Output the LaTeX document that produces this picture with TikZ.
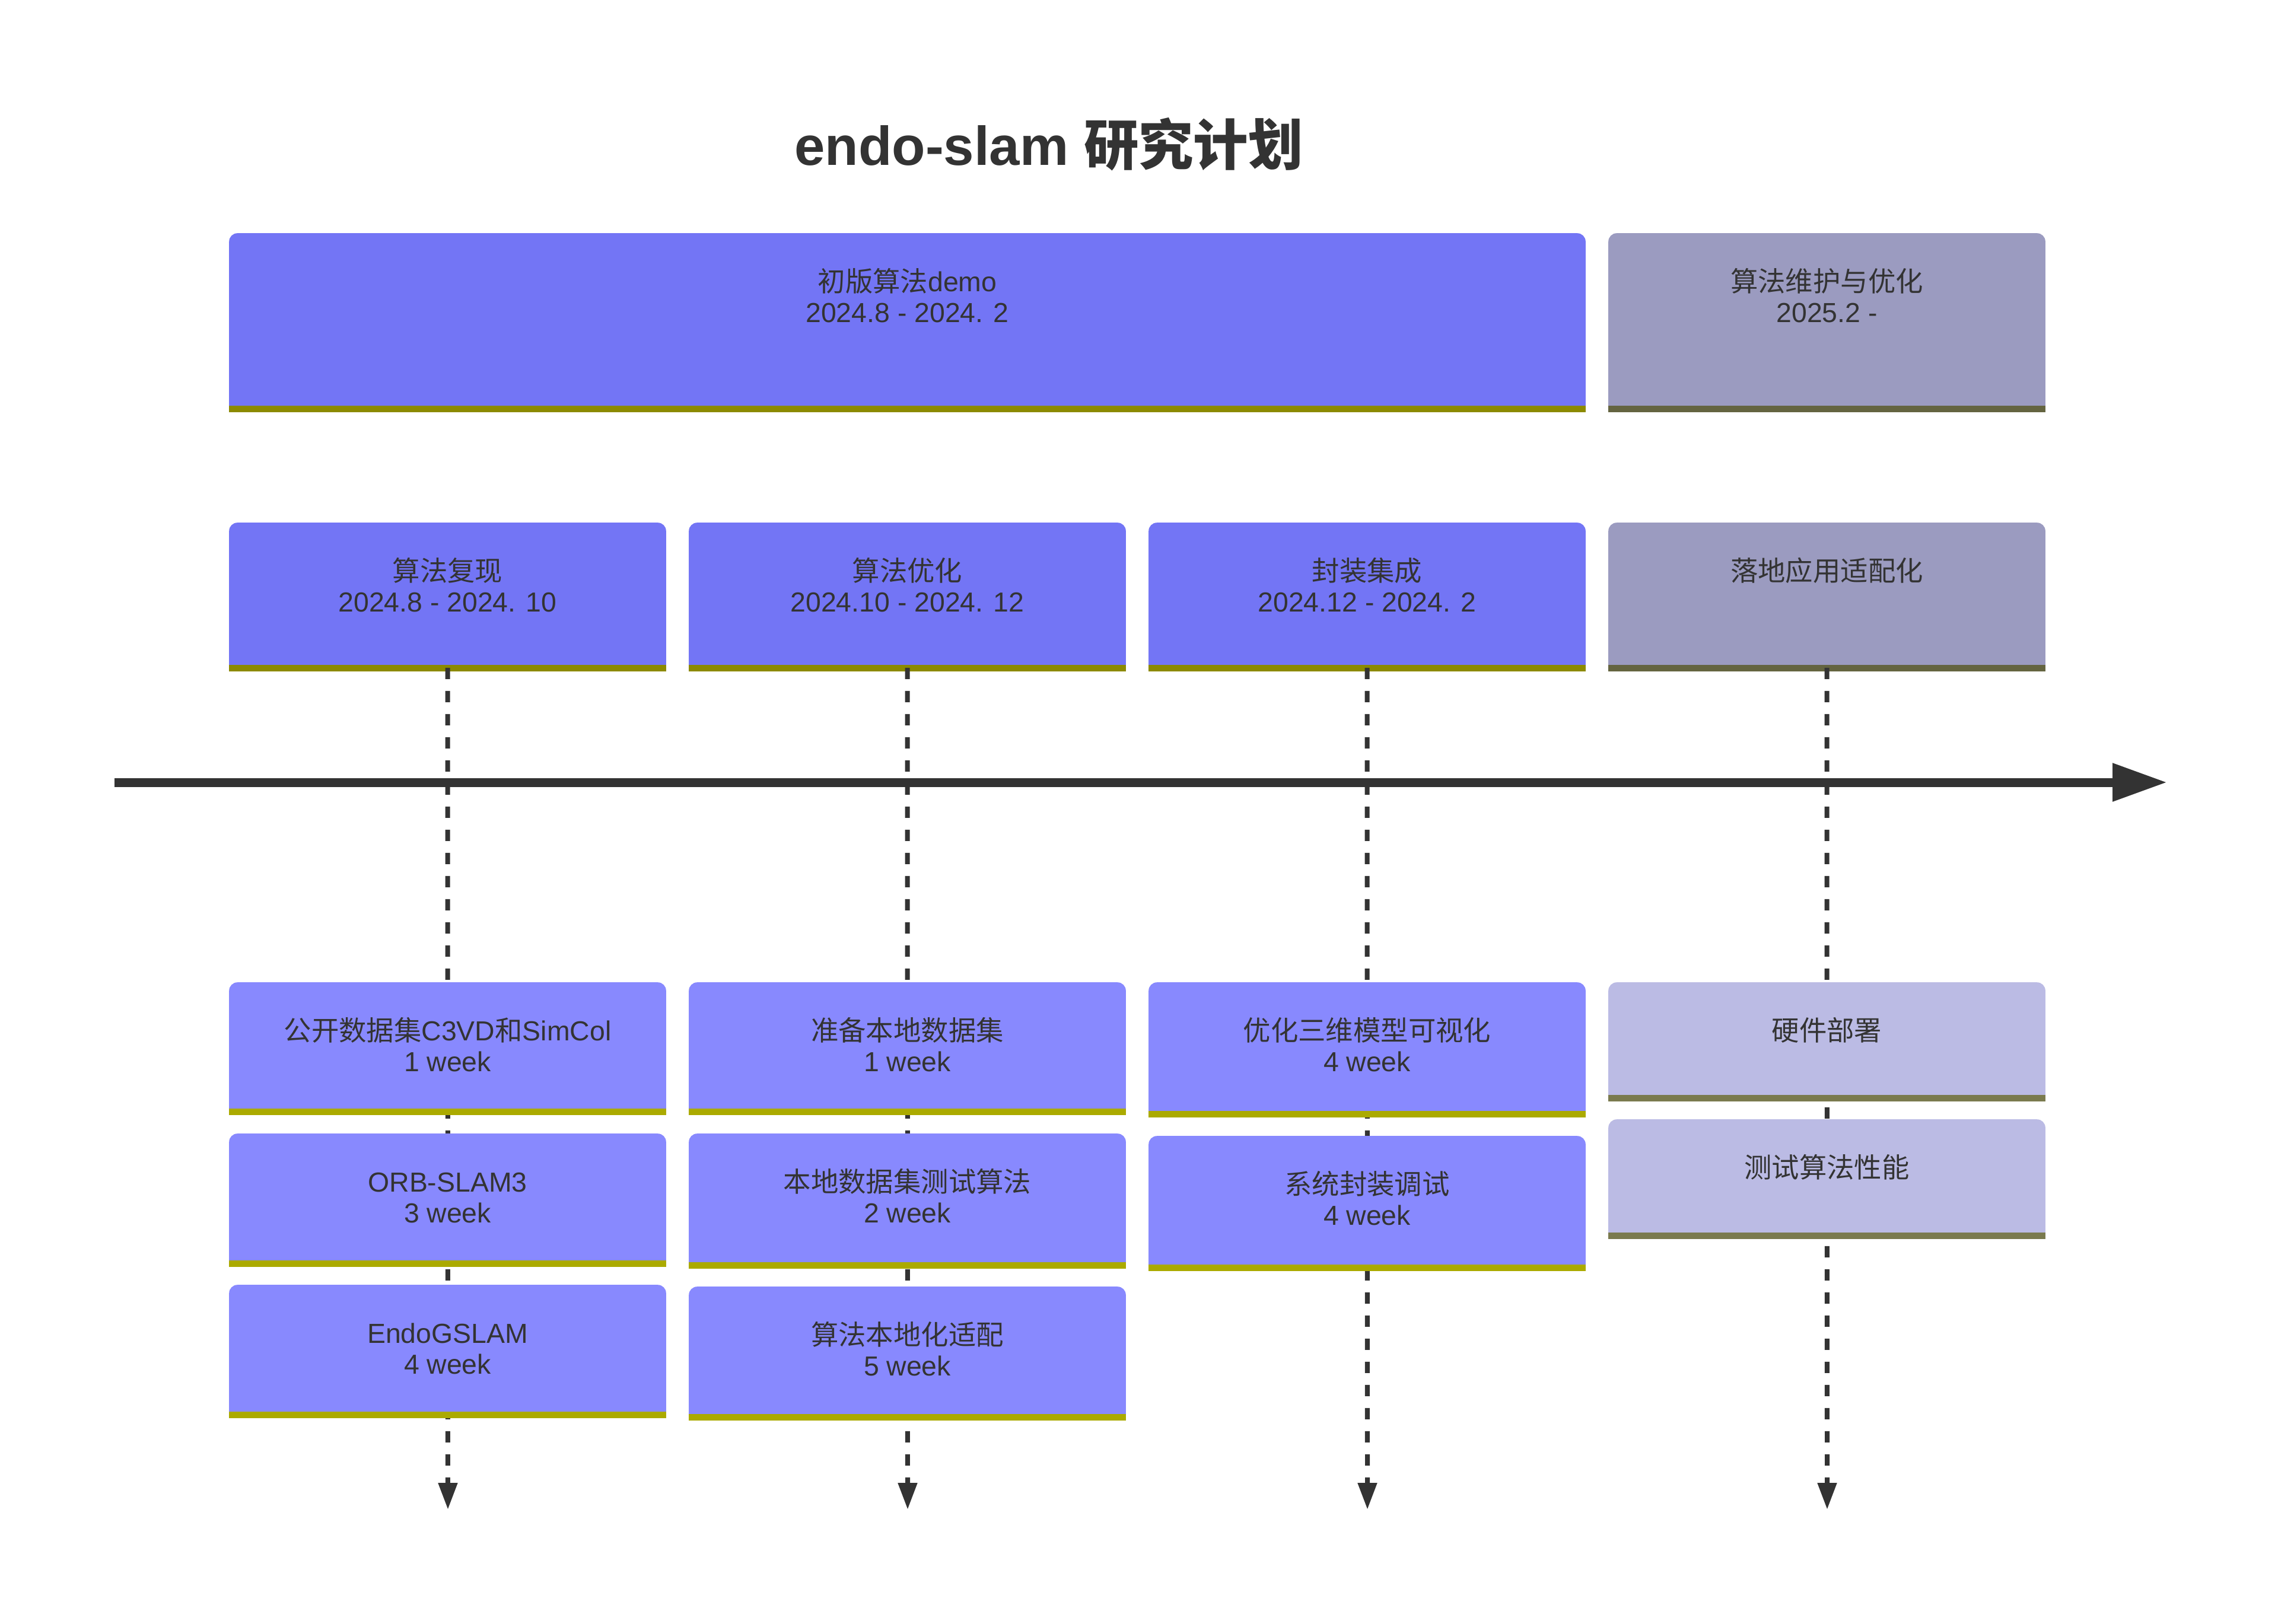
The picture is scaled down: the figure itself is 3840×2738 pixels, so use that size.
\documentclass[tikz,border=0pt]{standalone}
\usepackage{fontspec}
\setmainfont{Liberation Sans}
\newfontfamily\cjk{Noto Sans CJK SC}
\usetikzlibrary{arrows.meta}
\definecolor{txt}{HTML}{333333}
\definecolor{hdA}{HTML}{7375F5}
\definecolor{hdAband}{HTML}{8C8A00}
\definecolor{tkA}{HTML}{8889FE}
\definecolor{tkAband}{HTML}{ABAA00}
\definecolor{hdB}{HTML}{9B9BC0}
\definecolor{hdBband}{HTML}{646440}
\definecolor{tkB}{HTML}{BBBBE4}
\definecolor{tkBband}{HTML}{7A7A4E}
\tikzset{
  boxshape/.style={rectangle, inner sep=0pt, draw=none, fill=none},
  lbl/.style={anchor=base, inner sep=0pt, text=txt, font=\fontsize{11.6}{14}\selectfont},
  ttl/.style={anchor=base, inner sep=0pt, text=txt, font=\fontsize{23.1}{27}\selectfont\bfseries},
  axisline/.style={draw=txt, line width=3.75pt, -{Triangle[length=23pt,width=15.25pt]}},
  dashline/.style={draw=txt, line width=2pt, dash pattern=on 4.75pt off 5pt, -{Triangle[length=11.25pt,width=7.75pt]}},
}
% #1 name, #2 x1, #3 y1, #4 x2, #5 y2, #6 fill, #7 band
\newcommand\tlbox[7]{%
  \node[boxshape, minimum width={(#4-#2)*0.25pt}, minimum height={(#5-#3)*0.25pt}] (#1) at ({(#2+#4)/2},{(#3+#5)/2}) {};
  \begin{scope}
    \clip (#1.south west) rectangle (#1.north east);
    \fill[#6, rounded corners=3.5pt] (#1.north west) rectangle ([yshift=-6pt]#1.south east);
  \end{scope}
  \fill[#7] ([yshift=2.75pt]#1.south west) rectangle (#1.south east);
}
\newcommand\tltwo[3]{%
  \node[lbl] (#1-a) at ([yshift=-24.5pt]#1.north) {#2};
  \node[lbl] (#1-b) at ([yshift=-37.5pt]#1.north) {#3};
}
\newcommand\tlone[2]{%
  \node[lbl] (#1-a) at ([yshift=-24.5pt]#1.north) {#2};
}
\begin{document}
\begin{tikzpicture}[x=0.25pt,y=-0.25pt]
\useasboundingbox[fill=white] (0,0) rectangle (3840,2738);

% title
\node[ttl] (title) at (1768,279) {endo-slam {\cjk 研究计划}};

% sections
\tlbox{s1}{387}{394}{2672}{694}{hdA}{hdAband}
\tltwo{s1}{{\cjk 初版算法}demo}{2024.8 - 2024. 2}
\tlbox{s2}{2712}{394}{3447}{694}{hdB}{hdBband}
\tltwo{s2}{{\cjk 算法维护与优化}}{2025.2 -}

% phases
\tlbox{p1}{387}{882}{1122}{1131}{hdA}{hdAband}
\tltwo{p1}{{\cjk 算法复现}}{2024.8 - 2024. 10}
\tlbox{p2}{1162}{882}{1897}{1131}{hdA}{hdAband}
\tltwo{p2}{{\cjk 算法优化}}{2024.10 - 2024. 12}
\tlbox{p3}{1937}{882}{2672}{1131}{hdA}{hdAband}
\tltwo{p3}{{\cjk 封装集成}}{2024.12 - 2024. 2}
\tlbox{p4}{2712}{882}{3447}{1131}{hdB}{hdBband}
\tlone{p4}{{\cjk 落地应用适配化}}

% axis
\coordinate (axs) at (193,1319);
\coordinate (axe) at (3653,1319);
\draw[axisline] (axs) -- (axe);

% dashed connectors
\coordinate (e1) at (755,2545);
\coordinate (e2) at (1530,2545);
\coordinate (e3) at (2305,2545);
\coordinate (e4) at (3080,2545);
\draw[dashline] ([yshift=1.5pt]p1.south) -- (e1);
\draw[dashline] ([yshift=1.5pt]p2.south) -- (e2);
\draw[dashline] ([yshift=1.5pt]p3.south) -- (e3);
\draw[dashline] ([yshift=1.5pt]p4.south) -- (e4);

% tasks column 1
\tlbox{t11}{387}{1657}{1122}{1879}{tkA}{tkAband}
\tltwo{t11}{{\cjk 公开数据集}C3VD{\cjk 和}SimCol}{1 week}
\tlbox{t12}{387}{1912}{1122}{2135}{tkA}{tkAband}
\tltwo{t12}{ORB-SLAM3}{3 week}
\tlbox{t13}{387}{2167}{1122}{2390}{tkA}{tkAband}
\tltwo{t13}{EndoGSLAM}{4 week}
% column 2
\tlbox{t21}{1162}{1657}{1897}{1879}{tkA}{tkAband}
\tltwo{t21}{{\cjk 准备本地数据集}}{1 week}
\tlbox{t22}{1162}{1912}{1897}{2138}{tkA}{tkAband}
\tltwo{t22}{{\cjk 本地数据集测试算法}}{2 week}
\tlbox{t23}{1162}{2170}{1897}{2394}{tkA}{tkAband}
\tltwo{t23}{{\cjk 算法本地化适配}}{5 week}
% column 3
\tlbox{t31}{1937}{1657}{2672}{1883}{tkA}{tkAband}
\tltwo{t31}{{\cjk 优化三维模型可视化}}{4 week}
\tlbox{t32}{1937}{1916}{2672}{2142}{tkA}{tkAband}
\tltwo{t32}{{\cjk 系统封装调试}}{4 week}
% column 4
\tlbox{t41}{2712}{1657}{3447}{1856}{tkB}{tkBband}
\tlone{t41}{{\cjk 硬件部署}}
\tlbox{t42}{2712}{1888}{3447}{2088}{tkB}{tkBband}
\tlone{t42}{{\cjk 测试算法性能}}
\end{tikzpicture}
\end{document}
